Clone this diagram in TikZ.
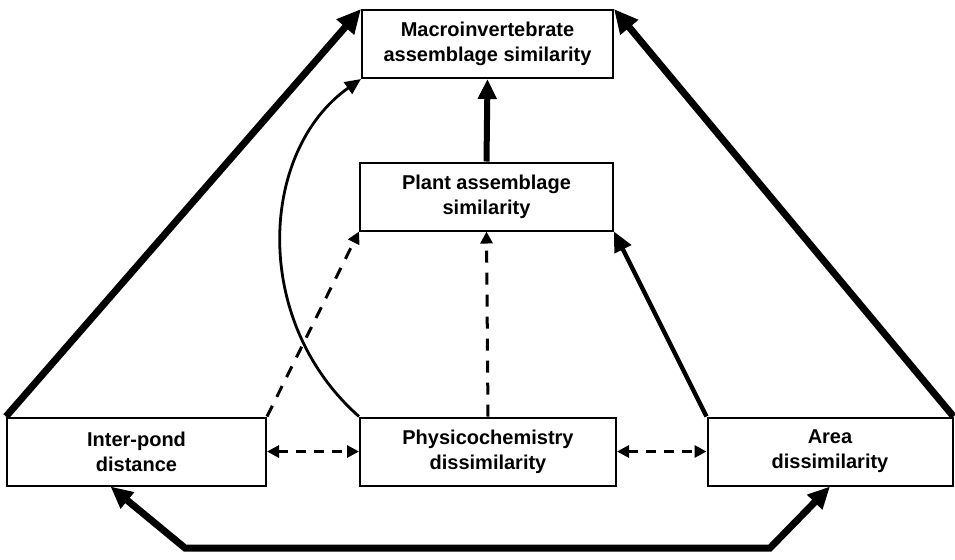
\documentclass[tikz,border=0pt]{standalone}
\usepackage{fontspec}
\setmainfont{Liberation Sans}
\usetikzlibrary{positioning,arrows.meta}
\tikzset{
  box/.style={rectangle,draw,line width=1pt,align=center,font=\bfseries\fontsize{10}{12.5}\selectfont,minimum height=34pt,inner sep=2pt},
  bigedge/.style={-{Triangle[length=12pt,width=11pt]},line width=3.5pt},
  midedge/.style={-{Triangle[length=10pt,width=9pt]},line width=2.2pt},
  thinedge/.style={-{Triangle[length=8pt,width=7pt]},line width=1.4pt},
  dashedge/.style={-{Triangle[length=6pt,width=6pt]},line width=1.5pt,dash pattern=on 6pt off 5pt},
  corr/.style={{Triangle[length=6pt,width=6pt]}-{Triangle[length=6pt,width=6pt]},line width=1.5pt,dash pattern=on 5pt off 4pt}
}
\begin{document}
\begin{tikzpicture}[x=0.5pt,y=-0.5pt]
\useasboundingbox (0,0) rectangle (955,559);
\node[box,minimum width=125.5pt] (macro) at (487.5,44) {Macroinvertebrate\\assemblage similarity};
\node[box,minimum width=126.5pt] (plant) at (486.5,196.5) {Plant assemblage\\similarity};
\node[box,minimum width=128pt] (phys) at (488,451.5) {Physicochemistry\\dissimilarity};
\node[box,minimum width=129.5pt] (inter) at (136.5,451.5) {Inter-pond\\distance};
\node[box,minimum width=122.5pt] (area) at (830,451.5) {Area\\dissimilarity};
% direct paths to macroinvertebrates
\draw[bigedge] (inter.north west) -- (macro.north west);
\draw[bigedge] (area.north east) -- (macro.north east);
\draw[midedge,line width=3pt] (plant.north) -- (macro.south);
\draw[thinedge] (phys.north west) .. controls (250,320) and (260,150) .. (macro.south west);
% paths to plants
\draw[dashedge] (inter.north east) -- (plant.south west);
\draw[dashedge] (phys.north) -- (plant.south);
\draw[midedge] (area.north west) -- (plant.south east);
% correlations
\draw[corr] (inter.east) -- (phys.west);
\draw[corr] (phys.east) -- (area.west);
\coordinate (br) at (770,548);
\coordinate (bl) at (185,548);
\draw[{Triangle[length=11pt,width=10pt]}-{Triangle[length=11pt,width=10pt]},line width=3.5pt,line join=miter]
  ([xshift=-13pt]inter.south) -- (bl) -- (br) -- (area.south);
\end{tikzpicture}
\end{document}
